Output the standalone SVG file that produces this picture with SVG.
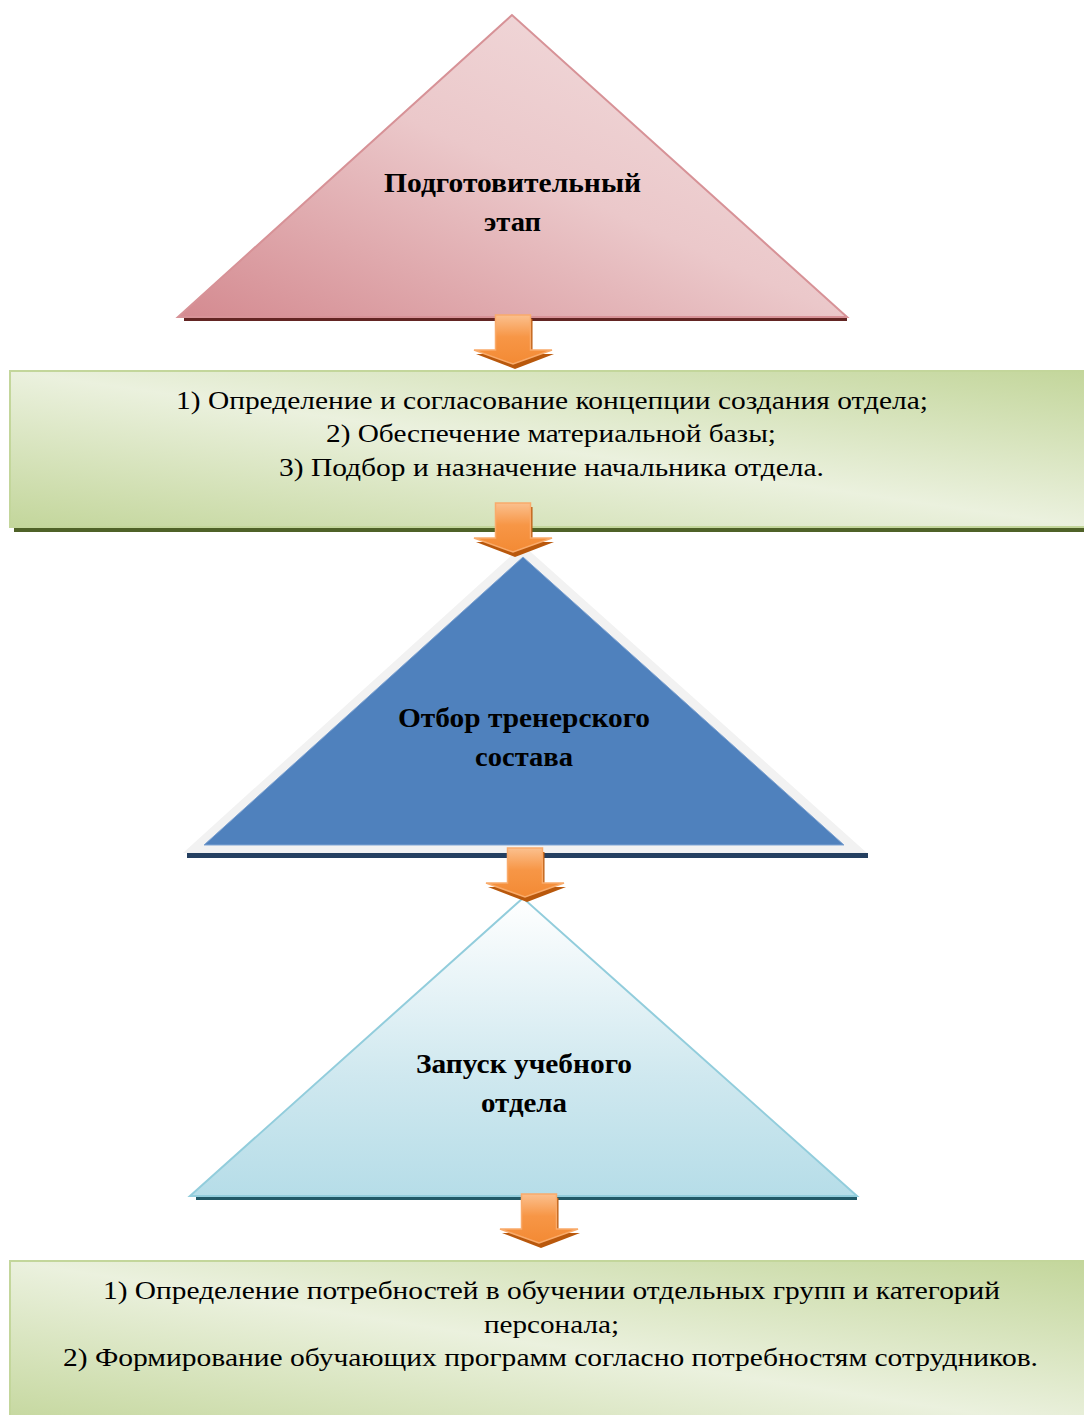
<svg xmlns="http://www.w3.org/2000/svg" xmlns:xlink="http://www.w3.org/1999/xlink" width="1084" height="1415" viewBox="0 0 1084 1415">
<style>
.t{font-family:"Liberation Serif","Times New Roman",serif;fill:#000;text-anchor:middle}
.b{font-weight:bold;font-size:28px}
.r{font-size:26px}
</style>
<defs>
<linearGradient id="gPink" x1="0" y1="1" x2="1" y2="0">
<stop offset="0" stop-color="#d48a90"/>
<stop offset="0.5" stop-color="#ebc8ca"/>
<stop offset="1" stop-color="#f3e0e1"/>
</linearGradient>
<linearGradient id="gGreen" x1="0" y1="1" x2="1" y2="0">
<stop offset="0" stop-color="#c3d69b"/>
<stop offset="0.5" stop-color="#ebf1de"/>
<stop offset="1" stop-color="#c3d69b"/>
</linearGradient>
<linearGradient id="gCyan" x1="0" y1="0" x2="0" y2="1">
<stop offset="0" stop-color="#ffffff"/>
<stop offset="0.6" stop-color="#cfe8ef"/>
<stop offset="1" stop-color="#b6dde8"/>
</linearGradient>
<linearGradient id="gOrange" x1="0" y1="0" x2="0" y2="1">
<stop offset="0" stop-color="#fbc08e"/>
<stop offset="0.45" stop-color="#f79646"/>
<stop offset="1" stop-color="#f38a34"/>
</linearGradient>
<g id="arrow">
<path d="M-15.5,4 H19.5 V39 H41 L2,54 L-37,39 H-15.5 Z" fill="#b9580c"/>
<path d="M-17.5,0 H17.5 V35 H39 L0,49 L-39,35 H-17.5 Z" fill="url(#gOrange)" stroke="#f9ab6b" stroke-width="1.5" stroke-linejoin="miter"/>
</g>
</defs>

<g id="node-podgotovitelny">
<rect x="184" y="317" width="663" height="4" fill="#632523"/>
<polygon points="512,15 178,317 847,317" fill="url(#gPink)" stroke="#d79297" stroke-width="2"/>
<text class="t b" x="512.5" y="192" textLength="257" lengthAdjust="spacingAndGlyphs">Подготовительный</text>
<text class="t b" x="512.5" y="231" textLength="57" lengthAdjust="spacingAndGlyphs">этап</text>
</g>

<g id="node-zadachi1">
<rect x="14" y="527" width="1070" height="5" fill="#4f6228"/>
<rect x="10" y="371" width="1078" height="156" fill="url(#gGreen)" stroke="#c3d69b" stroke-width="2"/>
<text class="t r" x="552" y="409" textLength="752" lengthAdjust="spacingAndGlyphs">1) Определение и согласование концепции создания отдела;</text>
<text class="t r" x="551" y="442" textLength="450" lengthAdjust="spacingAndGlyphs">2) Обеспечение материальной базы;</text>
<text class="t r" x="551.5" y="476" textLength="545" lengthAdjust="spacingAndGlyphs">3) Подбор и назначение начальника отдела.</text>
</g>

<g id="node-otbor">
<rect x="187" y="853" width="681" height="5" fill="#243f60"/>
<polygon points="523,545 183,853 867,853" fill="#f2f2f2"/>
<polygon points="523,557 204,845 844,845" fill="#4f81bd" stroke="#7ea3d2" stroke-width="1"/>
<text class="t b" x="524" y="727" textLength="252" lengthAdjust="spacingAndGlyphs">Отбор тренерского</text>
<text class="t b" x="524" y="766" textLength="98" lengthAdjust="spacingAndGlyphs">состава</text>
</g>

<g id="node-zapusk">
<rect x="196" y="1196" width="661" height="4" fill="#215967"/>
<polygon points="523,898 190,1196 857,1196" fill="url(#gCyan)" stroke="#92cddc" stroke-width="2"/>
<text class="t b" x="524" y="1073" textLength="216" lengthAdjust="spacingAndGlyphs">Запуск учебного</text>
<text class="t b" x="524" y="1112" textLength="86" lengthAdjust="spacingAndGlyphs">отдела</text>
</g>

<g id="node-zadachi2">
<rect x="10" y="1261" width="1078" height="170" fill="url(#gGreen)" stroke="#c3d69b" stroke-width="2"/>
<text class="t r" x="551.5" y="1299" textLength="897" lengthAdjust="spacingAndGlyphs">1) Определение потребностей в обучении отдельных групп и категорий</text>
<text class="t r" x="551.5" y="1333" textLength="135" lengthAdjust="spacingAndGlyphs">персонала;</text>
<text class="t r" x="550.5" y="1366" textLength="975" lengthAdjust="spacingAndGlyphs">2) Формирование обучающих программ согласно потребностям сотрудников.</text>
</g>

<g id="connectors">
<use xlink:href="#arrow" x="513" y="315"/>
<use xlink:href="#arrow" x="513" y="503"/>
<use xlink:href="#arrow" x="525" y="848"/>
<use xlink:href="#arrow" x="539" y="1194"/>
</g>
</svg>
